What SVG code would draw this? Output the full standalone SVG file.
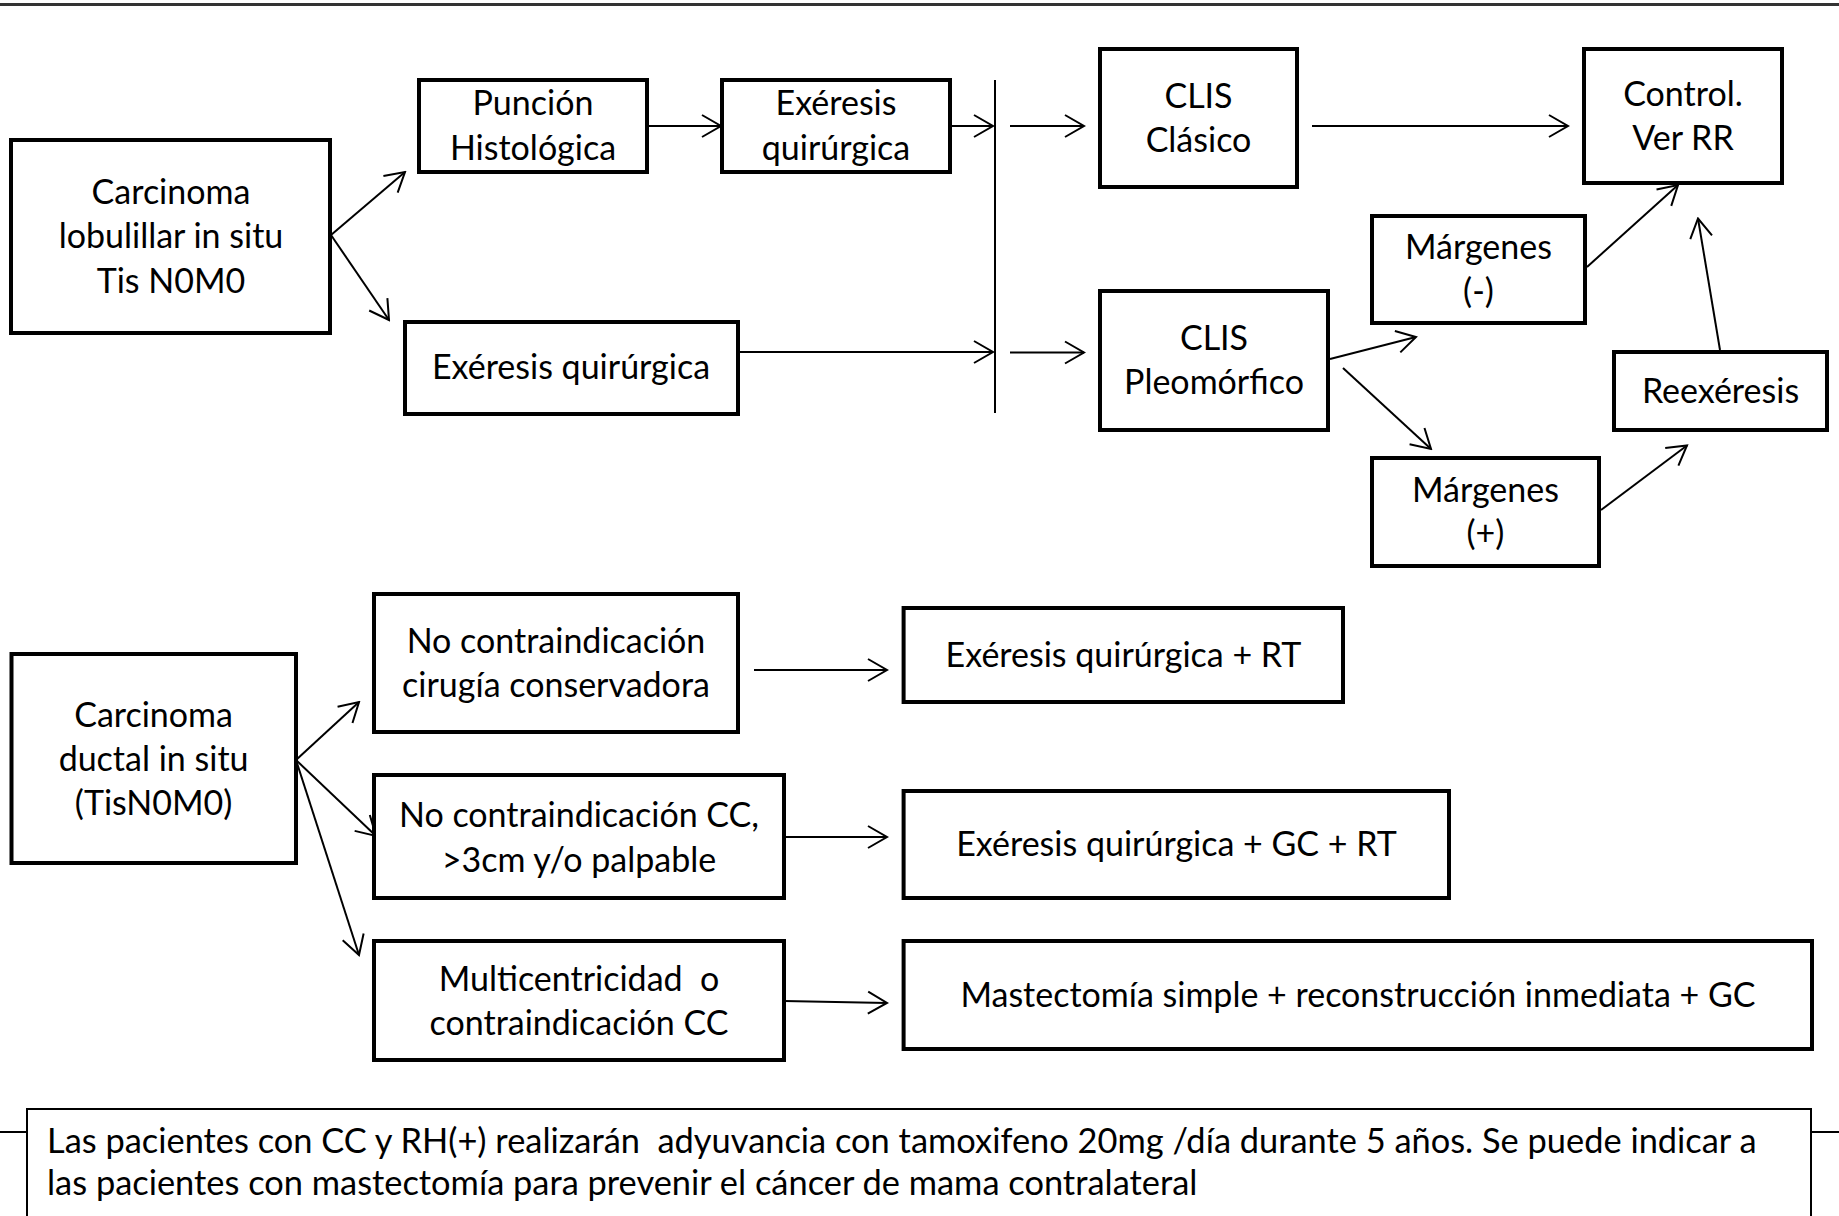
<svg xmlns="http://www.w3.org/2000/svg" width="1839" height="1216" viewBox="0 0 1839 1216">
<style>
.box{fill:#fff;stroke:#000;stroke-width:4}
.t{font-family:Lato,"Liberation Sans",sans-serif;font-size:34px;fill:#000;text-anchor:middle}
.n{font-family:Lato,"Liberation Sans",sans-serif;font-size:34.4px;fill:#000}
.c{stroke:#000;stroke-width:2;fill:none;marker-end:url(#ah)}
.p{stroke:#000;stroke-width:2;fill:none}
</style>
<defs>
<marker id="ah" markerUnits="userSpaceOnUse" viewBox="-22 -13 24 26" refX="0" refY="0" markerWidth="24" markerHeight="26" orient="auto">
<path d="M-19,-11 L0,0 L-19,11" fill="none" stroke="#000" stroke-width="2"/>
</marker>
</defs>
<rect width="1839" height="1216" fill="#fff"/>
<line x1="0" y1="4.5" x2="1839" y2="4.5" stroke="#333" stroke-width="3"/>

<g id="connectors">
<path class="c" d="M331,235 L405,172"/>
<path class="c" d="M331,235 L389,320"/>
<path class="c" d="M647,126 L721,126"/>
<path class="c" d="M950,126 L993,126"/>
<path class="c" d="M738,352 L993,352"/>
<path class="p" d="M995,80 L995,413"/>
<path class="c" d="M1010,126 L1084,126"/>
<path class="c" d="M1010,352.5 L1084,352.5"/>
<path class="c" d="M1312,126 L1568,126"/>
<path class="c" d="M1330,359 L1416,337"/>
<path class="c" d="M1343,368 L1431,449"/>
<path class="c" d="M1587,267 L1678,185"/>
<path class="c" d="M1601,510 L1687,445.5"/>
<path class="c" d="M1720,350 L1698,218.5"/>
<path class="c" d="M296,760 L359,702"/>
<path class="c" d="M296,760 L376,836"/>
<path class="c" d="M296,760 L359,955"/>
<path class="c" d="M754,670 L887,670"/>
<path class="c" d="M784,837 L887,837"/>
<path class="c" d="M784,1001 L887,1003"/>
<path class="p" d="M0,1132 L27,1132"/>
<path class="p" d="M1811,1132 L1839,1132"/>
</g>

<g id="lcis"><rect class="box" x="11" y="140" width="319" height="193"/>
<text class="t" x="171" y="204">Carcinoma</text><text class="t" x="171" y="248">lobulillar in situ</text><text class="t" x="171" y="293">Tis N0M0</text></g>
<g id="puncion"><rect class="box" x="419" y="80" width="228" height="92"/>
<text class="t" x="533" y="115">Punción</text><text class="t" x="533" y="160">Histológica</text></g>
<g id="exeresis1"><rect class="box" x="722" y="80" width="228" height="92"/>
<text class="t" x="836" y="115">Exéresis</text><text class="t" x="836" y="160">quirúrgica</text></g>
<g id="exeresis2"><rect class="box" x="405" y="322" width="333" height="92"/>
<text class="t" x="571" y="379">Exéresis quirúrgica</text></g>
<g id="clasico"><rect class="box" x="1100" y="49" width="197" height="138"/>
<text class="t" x="1198.5" y="108">CLIS</text><text class="t" x="1198.5" y="152">Clásico</text></g>
<g id="control"><rect class="box" x="1584" y="49" width="198" height="134"/>
<text class="t" x="1683" y="106">Control.</text><text class="t" x="1683" y="150">Ver RR</text></g>
<g id="pleomorfico"><rect class="box" x="1100" y="291" width="228" height="139"/>
<text class="t" x="1214" y="350">CLIS</text><text class="t" x="1214" y="394">Pleomórfico</text></g>
<g id="margenes-neg"><rect class="box" x="1372" y="216" width="213" height="107"/>
<text class="t" x="1478.5" y="259">Márgenes</text><text class="t" x="1478.5" y="303">(-)</text></g>
<g id="margenes-pos"><rect class="box" x="1372" y="458" width="227" height="108"/>
<text class="t" x="1485.5" y="502">Márgenes</text><text class="t" x="1485.5" y="545">(+)</text></g>
<g id="reexeresis"><rect class="box" x="1614" y="352" width="213" height="78"/>
<text class="t" x="1720.5" y="403">Reexéresis</text></g>

<g id="dcis"><rect class="box" x="11.5" y="654" width="284.5" height="209"/>
<text class="t" x="153.6" y="727">Carcinoma</text><text class="t" x="153.6" y="771">ductal in situ</text><text class="t" x="153.6" y="815">(TisN0M0)</text></g>
<g id="no-contra-1"><rect class="box" x="374" y="594" width="364" height="138"/>
<text class="t" x="556" y="653">No contraindicación</text><text class="t" x="556" y="697">cirugía conservadora</text></g>
<g id="no-contra-2"><rect class="box" x="374" y="775" width="410" height="123"/>
<text class="t" x="579" y="827">No contraindicación CC,</text><text class="t" x="579" y="872">&gt;3cm y/o palpable</text></g>
<g id="multicentricidad"><rect class="box" x="374" y="941" width="410" height="119"/>
<text class="t" x="579" y="991" xml:space="preserve">Multicentricidad  o</text><text class="t" x="579" y="1035">contraindicación CC</text></g>
<g id="exeresis-rt"><rect class="box" x="903.6" y="608" width="439.4" height="94"/>
<text class="t" x="1123.5" y="667">Exéresis quirúrgica + RT</text></g>
<g id="exeresis-gc-rt"><rect class="box" x="903.6" y="791" width="545.4" height="107"/>
<text class="t" x="1176.5" y="856">Exéresis quirúrgica + GC + RT</text></g>
<g id="mastectomia"><rect class="box" x="903.6" y="941" width="908.4" height="108"/>
<text class="t" x="1358" y="1007">Mastectomía simple + reconstrucción inmediata + GC</text></g>

<g id="nota"><rect x="27" y="1109" width="1784" height="130" fill="#fff" stroke="#000" stroke-width="2"/>
<text class="n" x="47" y="1153" xml:space="preserve">Las pacientes con CC y RH(+) realizarán  adyuvancia con tamoxifeno 20mg /día durante 5 años. Se puede indicar a</text>
<text class="n" x="47" y="1195">las pacientes con mastectomía para prevenir el cáncer de mama contralateral</text></g>
</svg>
